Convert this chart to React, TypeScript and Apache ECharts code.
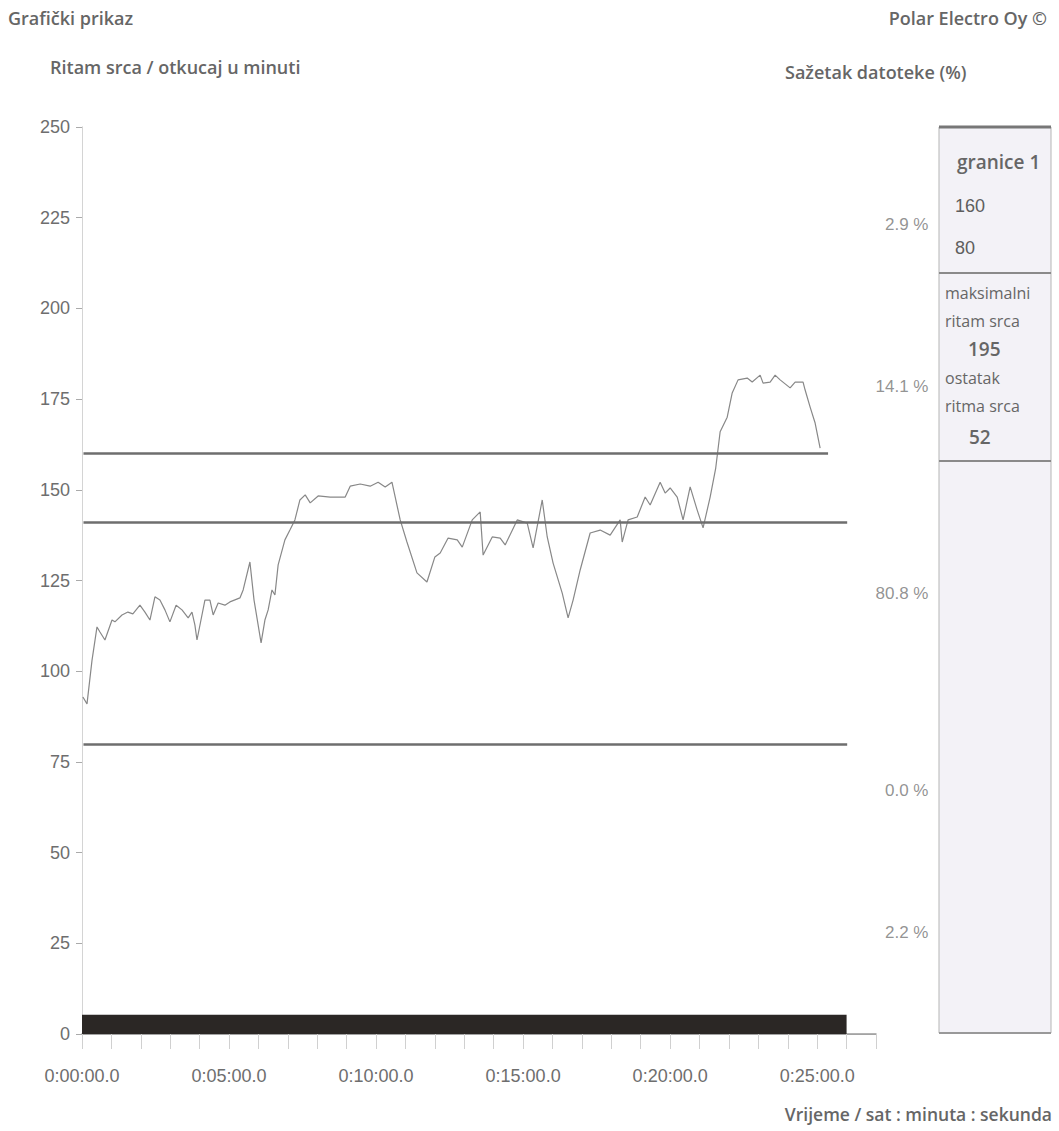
import React, { useEffect, useRef } from "react";
import * as echarts from "echarts";

// Heart-rate trace: time in minutes, value in beats per minute
const hrTime = [
  0.03, 0.17, 0.34, 0.51, 0.61, 0.78, 1.02, 1.12, 1.36, 1.56, 1.73, 1.97, 2.14, 2.31, 2.48, 2.65, 2.82, 2.99,
  3.2, 3.4, 3.61, 3.74, 3.84, 3.91, 4.18, 4.35, 4.46, 4.63, 4.86, 5.03, 5.37, 5.48, 5.71, 5.85, 6.09, 6.22,
  6.33, 6.46, 6.56, 6.67, 6.9, 7.07, 7.24, 7.41, 7.59, 7.76, 8.03, 8.44, 8.95, 9.12, 9.46, 9.8, 10.07, 10.31,
  10.54, 10.82, 11.05, 11.39, 11.73, 12.0, 12.18, 12.45, 12.76, 12.93, 13.27, 13.54, 13.64, 13.95, 14.22,
  14.39, 14.8, 15.14, 15.34, 15.65, 15.82, 16.02, 16.33, 16.53, 16.7, 16.94, 17.28, 17.62, 17.96, 18.3,
  18.37, 18.57, 18.88, 19.15, 19.32, 19.66, 19.83, 20.0, 20.24, 20.44, 20.68, 20.92, 21.12, 21.36, 21.55,
  21.7, 21.94, 22.11, 22.31, 22.62, 22.79, 23.06, 23.16, 23.4, 23.57, 23.74, 24.08, 24.25, 24.52, 24.59,
  24.76, 24.93, 25.1,
];
const hrValue = [
  92.9, 91.0, 103, 112.2, 110.8, 108.6, 114.1, 113.6, 115.5, 116.3, 115.8, 118.2, 116.3, 114.1, 120.5, 119.6,
  116.9, 113.6, 118.2, 116.9, 114.7, 116.3, 112.7, 108.6, 119.6, 119.6, 115.5, 118.8, 118.2, 119.1, 120.2,
  122.4, 130.1, 119.6, 107.8, 114.1, 116.9, 122.4, 121.0, 129.3, 136.2, 138.9, 141.7, 147.2, 148.6, 146.4,
  148.3, 148.0, 148.0, 151.0, 151.6, 151.0, 152.1, 150.8, 152.1, 141.7, 135.6, 127.1, 124.6, 131.5, 132.6,
  136.7, 136.2, 134.2, 141.7, 143.9, 132.0, 137.0, 136.7, 134.8, 141.7, 140.8, 134.0, 147.2, 137.0, 129.8,
  121.5, 114.7, 119.6, 127.9, 138.1, 138.9, 137.5, 141.7, 135.6, 141.7, 142.5, 148.0, 145.8, 152.1, 149.1,
  150.5, 148.0, 141.7, 150.8, 144.4, 139.5, 148.0, 156.0, 166.0, 170.0, 176.7, 180.3, 180.8, 179.7, 181.6,
  179.4, 179.7, 181.6, 180.3, 178.1, 179.7, 179.7, 177.5, 172.8, 168.4, 161.5,
];

// Horizontal limit lines (bpm) and where they end (minutes)
const limitValues = [160, 141, 80];
const limitStarts = [0.05, 0.05, 0.05];
const limitEnds = [25.37, 26.02, 26.02];

// Recording bar at the bottom
const recordEnd = 26;
const recordHeight = 5.3;

// Zone percentages shown to the right of the plot
const zonePct = ["2.9 %", "14.1 %", "80.8 %", "0.0 %", "2.2 %"];
const zoneLabelY = [223, 178.5, 121.5, 67, 28];

// Axis ranges / ticks
const xMax = 27;
const yMax = 250;
const yInterval = 25;
const xLabelEvery = 5;

// Summary panel texts
const panelTitle = "granice 1";
const panelLimits = ["160", "80"];
const maxHrLabel = ["maksimalni", "ritam srca"];
const maxHrValue = "195";
const restHrLabel = ["ostatak", "ritma srca"];
const restHrValue = "52";

const fmtTime = (m: number) => {
  const mm = Math.round(m);
  return `0:${String(mm).padStart(2, "0")}:00.0`;
};

const HEAD_FONT = "'Open Sans', 'DejaVu Sans', sans-serif";
const AXIS_FONT = "'Liberation Sans', Arial, sans-serif";
const HEAD_COLOR = "#666666";

export default function App() {
  const ref = useRef<HTMLDivElement>(null);

  useEffect(() => {
    if (!ref.current) return;
    const chart = echarts.init(ref.current, null, { renderer: "svg" });

    const hrData = hrTime.map((t, i) => [t, hrValue[i]]);
    const zoneData = zoneLabelY.map((v, i) => ({ value: [xMax, v], name: zonePct[i] }));

    const headText = (x: number, y: number, text: string, align: string, size = 18, weight: any = 600) => ({
      type: "text",
      x,
      y,
      style: {
        text,
        fill: HEAD_COLOR,
        font: `${weight} ${size}px ${HEAD_FONT}`,
        align,
        verticalAlign: "middle",
      },
    });
    const axisText = (x: number, y: number, text: string, align: string, size = 18) => ({
      type: "text",
      x,
      y,
      style: { text, fill: "#5e5e5e", font: `normal ${size}px ${AXIS_FONT}`, align, verticalAlign: "middle" },
    });

    const option: any = {
      animation: false,
      backgroundColor: "#ffffff",
      grid: { left: 82, right: 183, top: 127, bottom: 97 },
      xAxis: [
        {
          type: "value",
          min: 0,
          max: xMax,
          interval: 1,
          axisLine: { show: true, lineStyle: { color: "#bdbdbd", width: 1 } },
          axisTick: { show: true, length: 15, lineStyle: { color: "#d0d0d0" } },
          splitLine: { show: false },
          axisLabel: {
            margin: 33,
            color: "#6e6e6e",
            fontSize: 18,
            fontFamily: AXIS_FONT,
            formatter: (v: number) => (v % xLabelEvery === 0 && v < xMax ? fmtTime(v) : ""),
          },
        },
        {
          type: "value",
          position: "top",
          min: 0,
          max: xMax,
          axisLine: { show: true, lineStyle: { color: "#9a9a9a", width: 1.5 } },
          axisTick: { show: false },
          axisLabel: { show: false },
          splitLine: { show: false },
        },
      ],
      yAxis: [
        {
          type: "value",
          min: 0,
          max: yMax,
          interval: yInterval,
          axisLine: { show: true, lineStyle: { color: "#dedede", width: 1 } },
          axisTick: { show: true, length: 6, lineStyle: { color: "#aaaaaa" } },
          splitLine: { show: false },
          axisLabel: { margin: 12, color: "#6e6e6e", fontSize: 18, fontFamily: AXIS_FONT },
        },
        {
          type: "value",
          position: "right",
          min: 0,
          max: yMax,
          axisLine: { show: true, lineStyle: { color: "#d4d4d4", width: 1 } },
          axisTick: { show: false },
          axisLabel: { show: false },
          splitLine: { show: false },
        },
      ],
      series: [
        {
          type: "line",
          data: hrData,
          showSymbol: false,
          symbol: "none",
          lineStyle: { color: "#888888", width: 1.2 },
          z: 3,
          markArea: {
            silent: true,
            itemStyle: { color: "#2b2725" },
            data: [[{ coord: [0, 0] }, { coord: [recordEnd, recordHeight] }]],
          },
          markLine: {
            silent: true,
            symbol: ["none", "none"],
            label: { show: false },
            lineStyle: { color: "#6e6e6e", width: 2.5, type: "solid" },
            data: limitValues.map((v, i) => [
              { coord: [limitStarts[i], v] },
              { coord: [limitEnds[i], v] },
            ]),
          },
        },
        {
          type: "scatter",
          data: zoneData,
          symbolSize: 1,
          clip: false,
          itemStyle: { color: "rgba(0,0,0,0)" },
          label: {
            show: true,
            position: "right",
            distance: 0,
            align: "right",
            offset: [52, 0],
            formatter: (p: any) => p.name,
            color: "#777",
            fontSize: 17,
            fontFamily: AXIS_FONT,
          },
        },
      ],
      graphic: [
        headText(8, 18, "Grafički prikaz", "left"),
        headText(50, 67, "Ritam srca / otkucaj u minuti", "left"),
        headText(1047, 18, "Polar Electro Oy ©", "right"),
        headText(785, 72, "Sažetak datoteke (%)", "left"),
        headText(1052, 1114, "Vrijeme / sat : minuta : sekunda", "right", 17.5),
        // summary panel
        {
          type: "rect",
          shape: { x: 939, y: 127, width: 112, height: 906 },
          style: { fill: "#f3f2f7", stroke: "#b5b5b5", lineWidth: 1 },
        },
        { type: "line", shape: { x1: 939, y1: 127, x2: 1051, y2: 127 }, style: { stroke: "#777", lineWidth: 3 } },
        { type: "line", shape: { x1: 939, y1: 273, x2: 1051, y2: 273 }, style: { stroke: "#8a8a8a", lineWidth: 2 } },
        { type: "line", shape: { x1: 939, y1: 461, x2: 1051, y2: 461 }, style: { stroke: "#8a8a8a", lineWidth: 2 } },
        { type: "line", shape: { x1: 939, y1: 1033, x2: 1051, y2: 1033 }, style: { stroke: "#999", lineWidth: 2 } },
        headText(957, 162, panelTitle, "left", 19, 600),
        axisText(955, 206, panelLimits[0], "left", 18),
        axisText(955, 248, panelLimits[1], "left", 18),
        headText(945, 293, maxHrLabel[0], "left", 16, 500),
        headText(945, 321, maxHrLabel[1], "left", 16, 500),
        headText(968, 349, maxHrValue, "left", 19, 600),
        headText(945, 378, restHrLabel[0], "left", 16, 500),
        headText(945, 406, restHrLabel[1], "left", 16, 500),
        headText(969, 437, restHrValue, "left", 19, 600),
      ],
    };

    chart.setOption(option);
    return () => chart.dispose();
  }, []);

  return (
    <div
      ref={ref}
      style={{ position: "fixed", left: 0, top: 0, width: 1059, height: 1131, background: "#fff" }}
    />
  );
}
